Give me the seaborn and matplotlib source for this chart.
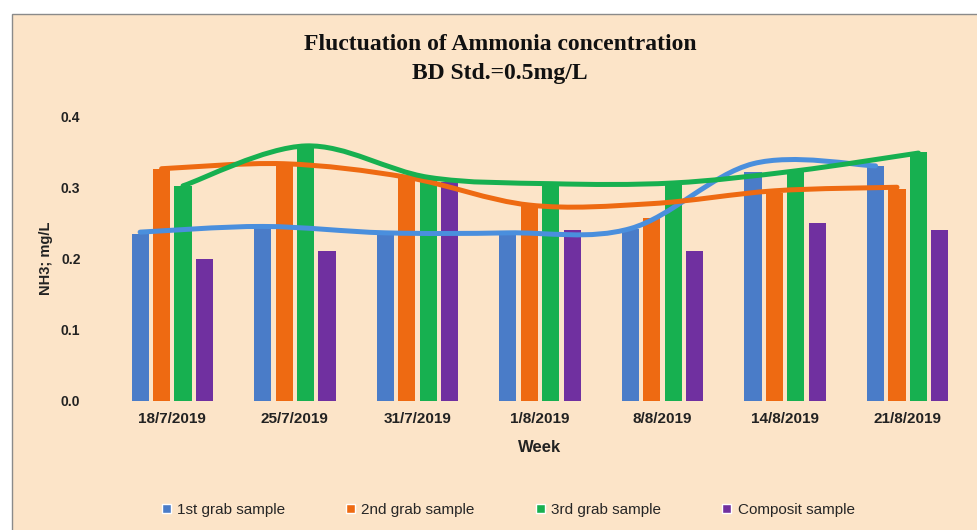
import numpy as np
import pandas as pd
import matplotlib
matplotlib.use("Agg")
import matplotlib.pyplot as plt
from matplotlib.path import Path
from matplotlib.patches import PathPatch, Rectangle
import seaborn as sns

weeks = ["18/7/2019", "25/7/2019", "31/7/2019", "1/8/2019", "8/8/2019", "14/8/2019", "21/8/2019"]
series = ["1st grab sample", "2nd grab sample", "3rd grab sample", "Composit sample"]
grab1 = [0.235, 0.245, 0.235, 0.236, 0.242, 0.322, 0.330]
grab2 = [0.326, 0.333, 0.316, 0.277, 0.257, 0.292, 0.298]
grab3 = [0.302, 0.358, 0.312, 0.305, 0.306, 0.322, 0.350]
composite = [0.200, 0.210, 0.308, 0.240, 0.210, 0.250, 0.240]
# smoothed line series
line1 = [0.237, 0.245, 0.236, 0.236, 0.242, 0.333, 0.330]
line2 = [0.326, 0.333, 0.314, 0.275, 0.277, 0.295, 0.300]
line3 = [0.302, 0.358, 0.314, 0.305, 0.306, 0.323, 0.348]
colors = ["#4A7CC8", "#EE6A12", "#17B050", "#7030A0"]
line_colors = ["#4A8FDD", "#EE6A12", "#17B050"]

df = pd.DataFrame({
    "Week": weeks * 4,
    "Sample": np.repeat(series, len(weeks)),
    "Value": grab1 + grab2 + grab3 + composite,
})

sns.set_theme(style="white")
sans = ["Liberation Sans", "DejaVu Sans"]
bg = "#FCE4C8"
fig = plt.figure(figsize=(9.77, 5.30), dpi=100)
fig.patch.set_facecolor("white")
frame = Rectangle((12 / 977, -0.01), 1.01 - 12 / 977, 1.01 - 14 / 530, transform=fig.transFigure,
                  facecolor=bg, edgecolor="#8a8a8a", linewidth=1.0, zorder=-10)
fig.add_artist(frame)

ax = fig.add_axes([111 / 977, 1 - 401 / 530, (969 - 111) / 977, (401 - 116) / 530])
ax.set_facecolor("none")
ax.patch.set_alpha(0)
sns.barplot(data=df, x="Week", y="Value", hue="Sample", order=weeks, hue_order=series,
            palette=colors, width=0.7, gap=0.2, ax=ax, legend=False, saturation=1, linewidth=0)

def smooth_path(xs, ys):
    pts = np.column_stack([xs, ys])
    n = len(pts)
    verts = [pts[0]]
    codes = [Path.MOVETO]
    for i in range(n - 1):
        p0 = pts[i - 1] if i > 0 else pts[i]
        p1 = pts[i]
        p2 = pts[i + 1]
        p3 = pts[i + 2] if i + 2 < n else pts[i + 1]
        c1 = p1 + (p2 - p0) / 6.0
        c2 = p2 - (p3 - p1) / 6.0
        verts += [c1, c2, p2]
        codes += [Path.CURVE4] * 3
    return Path(verts, codes)

for k, lv in enumerate([line1, line2, line3]):
    cont = ax.containers[k]
    xs = [b.get_x() + b.get_width() / 2 for b in cont]
    ax.add_patch(PathPatch(smooth_path(xs, lv), facecolor="none", edgecolor=line_colors[k],
                           linewidth=3.6, zorder=5, capstyle="round", joinstyle="round"))

ax.set_xlim(-0.5, 6.5)
ax.set_ylim(0, 0.4)
ax.set_yticks([0, 0.1, 0.2, 0.3, 0.4])
ax.set_yticklabels(["0.0", "0.1", "0.2", "0.3", "0.4"])
for s in ax.spines.values():
    s.set_visible(False)
ax.tick_params(axis="both", length=0, colors="#222222")
ax.tick_params(axis="y", pad=22, labelsize=10)
ax.tick_params(axis="x", pad=8, labelsize=11)
for t in ax.get_xticklabels():
    t.set_fontweight("bold")
    t.set_family(sans)
for t in ax.get_yticklabels():
    t.set_family(sans)
    t.set_fontweight("bold")
ax.set_xlabel("Week", fontsize=12, fontweight="bold", labelpad=10, color="#222222", family=sans)
ax.set_ylabel("NH3; mg/L", fontsize=10.5, fontweight="bold", labelpad=6, color="#222222", family=sans)

fig.text(0.512, 1 - 45 / 530, "Fluctuation of Ammonia concentration", ha="center", va="center",
         fontsize=17, fontweight="bold", family="Liberation Serif", color="#111111")
fig.text(0.512, 1 - 74 / 530, "BD Std.=0.5mg/L", ha="center", va="center",
         fontsize=17, fontweight="bold", family="Liberation Serif", color="#111111")

handles = [Rectangle((0, 0), 1, 1, facecolor=c) for c in colors]
fig.legend(handles, series, loc="center", bbox_to_anchor=(0.52, 1 - 510 / 530), ncol=4,
           frameon=False, handlelength=0.6, handleheight=0.6, columnspacing=4.0,
           handletextpad=0.4, prop={"family": sans, "size": 11})

fig.savefig("out.png", dpi=100, facecolor=fig.get_facecolor())
